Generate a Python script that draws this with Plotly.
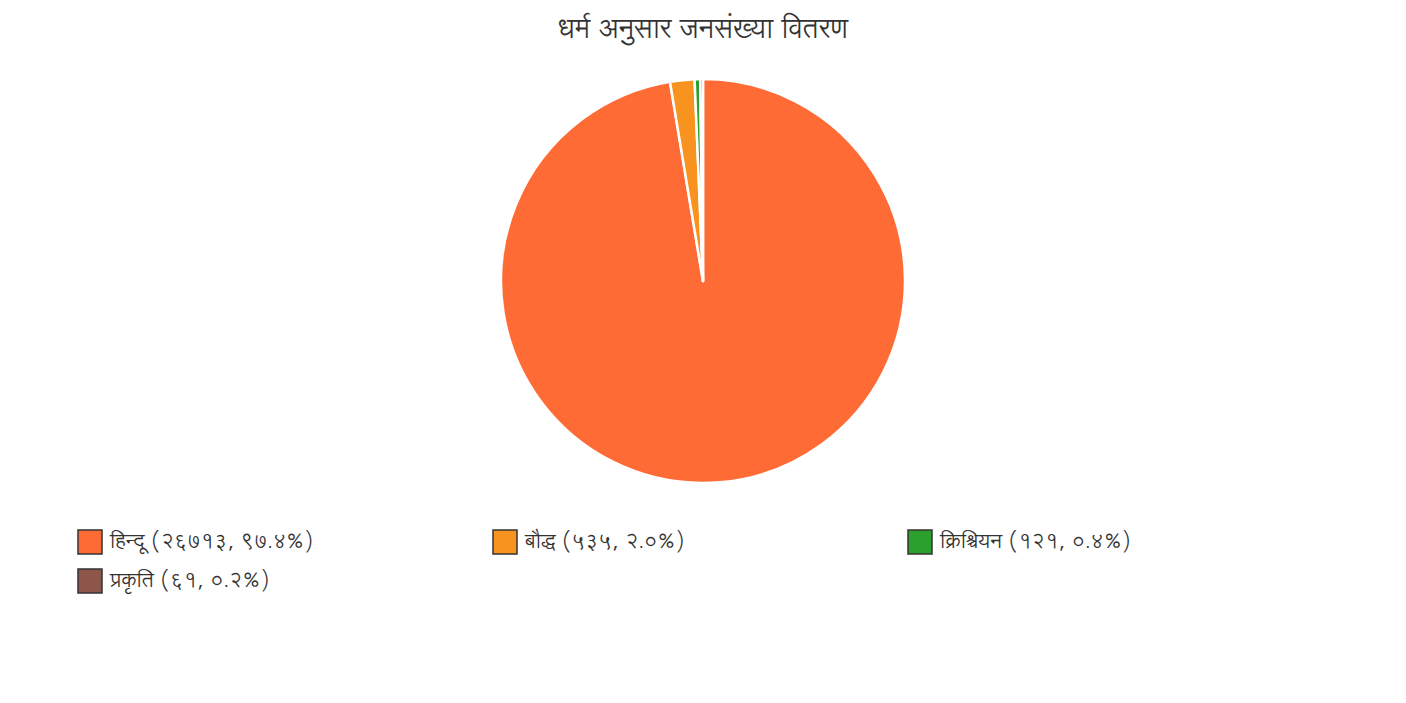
import plotly.graph_objects as go

# ---- data ----
religions = ["हिन्दू", "बौद्ध", "क्रिश्चियन", "प्रकृति"]
populations = [26713, 535, 121, 61]
colors = ["#FF6B35", "#F7931E", "#2CA02C", "#8C564B"]
title_text = "धर्म अनुसार जनसंख्या वितरण"

W, H = 1406, 703
FONT = "Lohit Devanagari"
DEV = str.maketrans("0123456789", "०१२३४५६७८९")


def dev(s):
    return str(s).translate(DEV)


total = sum(populations)
labels = [
    f"{n} ({dev(v)}, {dev(f'{v / total * 100:.1f}')}%)"
    for n, v in zip(religions, populations)
]

fig = go.Figure()
fig.add_trace(
    go.Pie(
        labels=religions,
        values=populations,
        marker=dict(colors=colors, line=dict(color="white", width=2.5)),
        sort=False,
        direction="clockwise",
        rotation=0,
        textinfo="none",
        hovertemplate="%{label}: %{value} (%{percent})<extra></extra>",
        showlegend=False,
        domain=dict(x=[0, 1], y=[1 - 483 / H, 1 - 79 / H]),
    )
)

# ---- custom legend (3 columns) ----
shapes = []
annotations = []
col_x = [78, 493, 908]
row_y = [542, 581]
box = 24
for i, (lab, c) in enumerate(zip(labels, colors)):
    cx = col_x[i % 3]
    cy = row_y[i // 3]
    shapes.append(
        dict(
            type="rect",
            xref="paper",
            yref="paper",
            x0=cx / W,
            x1=(cx + box) / W,
            y0=1 - (cy + box / 2) / H,
            y1=1 - (cy - box / 2) / H,
            fillcolor=c,
            line=dict(color="#333333", width=1.5),
        )
    )
    annotations.append(
        dict(
            text=lab,
            xref="paper",
            yref="paper",
            x=(cx + box + 5) / W,
            y=1 - cy / H,
            xanchor="left",
            yanchor="middle",
            showarrow=False,
            font=dict(family=FONT, size=20.5, color="#333333"),
        )
    )

fig.update_layout(
    width=W,
    height=H,
    margin=dict(l=0, r=0, t=0, b=0),
    paper_bgcolor="white",
    plot_bgcolor="white",
    font=dict(family=FONT, color="#333333"),
    title=dict(
        text=title_text,
        x=0.5,
        xanchor="center",
        y=1 - 29 / H,
        yanchor="middle",
        font=dict(family=FONT, size=27, color="#333333"),
    ),
    shapes=shapes,
    annotations=annotations,
)

fig.write_html("out.html")
